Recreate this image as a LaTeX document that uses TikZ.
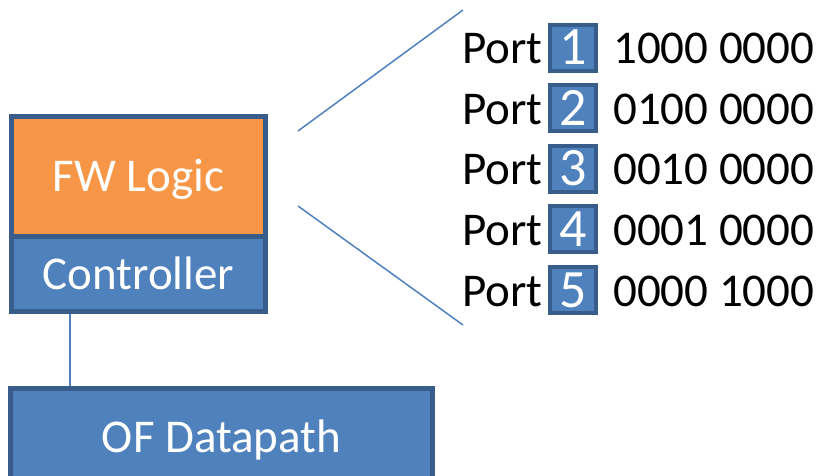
\documentclass[tikz,border=0pt]{standalone}
\usepackage{fontspec}
\setmainfont{Carlito}
\usetikzlibrary{backgrounds}
\definecolor{sky}{RGB}{79,129,189}
\definecolor{edge}{RGB}{56,93,138}
\definecolor{amber}{RGB}{247,150,70}

\begin{document}
\begin{tikzpicture}[x=1pt,y=-1pt,font=\fontsize{47}{56}\selectfont,
    block/.style={draw=edge,line width=5pt,fill=#1,text=white,inner sep=0pt,outer sep=0pt,text height=30pt,text depth=0pt},
    numbox/.style={draw=edge,line width=4pt,fill=sky,text=white,inner sep=0pt,outer sep=0pt,minimum size=46pt,
      font=\fontsize{54}{60}\selectfont,text height=34pt,text depth=0pt},
    link/.style={draw=sky,line width=1.5pt}]
  \path[use as bounding box,clip] (0,0) rectangle (823,476);
  \node[block=sky,minimum width=254pt,minimum height=74pt] (ctrl) at (138.5,274) {Controller};
  \node[block=amber,minimum width=254pt,minimum height=120pt] (fw) at (138.5,177) {FW Logic};
  \node[block=sky,minimum width=422pt,minimum height=98pt] (dp) at (221.5,437) {OF Datapath};
  \coordinate (tap) at (70,0);
  \coordinate (fanA) at (298,131);
  \coordinate (fanB) at (298,206);
  \coordinate (topend) at (463,10);
  \coordinate (botend) at (463,325);
  \foreach \i/\bits in {1/1000 0000,2/0100 0000,3/0010 0000,4/0001 0000,5/0000 1000}{
    \pgfmathsetmacro{\c}{48+60.5*(\i-1)}
    \node[anchor=base west,inner sep=0pt] (port\i) at (462,\c+16) {Port};
    \node[numbox] (num\i) at (573,\c) {\i};
    \node[anchor=base west,inner sep=0pt] (bits\i) at (613,\c+16) {\bits};
  }
  \begin{scope}[on background layer]
    \draw[link] (ctrl.south -| tap) -- (dp.north -| tap);
  \end{scope}
  \draw[link] (fanA) -- (topend);
  \draw[link] (fanB) -- (botend);
\end{tikzpicture}
\end{document}
